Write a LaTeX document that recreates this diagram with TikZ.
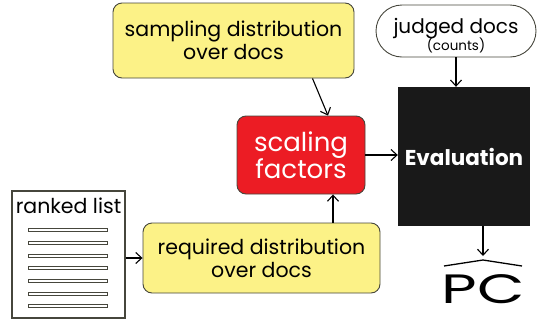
\documentclass[tikz,border=0pt]{standalone}
\usepackage{fontspec}
\setmainfont{Poppins}
\usepackage{tikz}
\usetikzlibrary{shapes.geometric, shapes.misc, arrows, arrows.meta}
\definecolor{boxyellow}{RGB}{252,242,135}
\definecolor{boxred}{RGB}{236,28,36}
\definecolor{boxedge}{RGB}{70,70,60}
\tikzstyle{blocky} = [rectangle, draw=boxedge, line width=0.9pt, rounded corners=9pt, align=center, fill=boxyellow, font=\fontsize{20.5}{23}\selectfont]
\tikzstyle{blockr} = [rectangle, draw=boxedge, line width=0.9pt, rounded corners=9pt, align=center, fill=boxred, text=white, minimum width=128pt, minimum height=78pt, font=\fontsize{26}{27}\selectfont]
\tikzstyle{blocke} = [rectangle, fill=black!90, text=white, minimum width=132pt, minimum height=139pt, font=\fontsize{21.5}{22}\selectfont\bfseries]
\tikzstyle{blockj} = [rounded rectangle, draw=boxedge, line width=0.9pt, align=center, minimum width=162pt, minimum height=52pt, inner sep=1pt, font=\fontsize{20}{19}\selectfont]
\tikzstyle{listbox} = [rectangle, draw=boxedge, line width=1.2pt, minimum width=113pt, minimum height=127pt]
\tikzstyle{bar} = [draw=boxedge, line width=0.8pt, fill=white]
\tikzstyle{hat} = [draw, line width=1.3pt, line join=round]
\tikzstyle{line} = [draw,-{Straight Barb[length=6pt,width=11pt]},line width=1.1pt]

\begin{document}
\begin{tikzpicture}[x=1pt, y=-1pt]
\useasboundingbox (0,0) rectangle (541,322);

\node [blocky, minimum width=241pt, minimum height=75pt] (sampling) at (233.5,40.5) {sampling distribution\\over docs};
\node [blockj] (judged) at (456,31) {\raisebox{-6pt}[\height][\depth]{\begin{tabular}{@{}c@{}}judged docs\\[-2pt]{\fontsize{13.5}{13.5}\selectfont (counts)}\end{tabular}}};
\node [blockr] (scaling) at (301,155) {scaling\\factors};
\node [blocke] (eval) at (464,156.5) {Evaluation};
\node [listbox] (list) at (68.5,254.5) {};
\node [below=4pt, font=\fontsize{20.5}{22}\selectfont] (listtitle) at (list.north) {ranked list};
\node [blocky, minimum width=237pt, minimum height=70pt] (required) at (261.5,258) {required distribution\\over docs};
\node [anchor=base, font=\fontsize{41}{44}\selectfont] (pc) at (483,303) {\scalebox{1.5}[1]{PC}};
\coordinate (pctop) at (483,256);

\foreach \k in {0,...,6}
  \path [bar] (28,{228.5+12.7*\k}) rectangle (107,{231.5+12.7*\k});

% hat over PC
\path [hat] ([xshift=-39pt, yshift=37pt]pc.base) -- ([yshift=43pt]pc.base) -- ([xshift=39pt, yshift=37pt]pc.base);

\path [line] ([xshift=79pt]sampling.south) -- ([xshift=27pt]scaling.north);
\path [line] (scaling.east) -- (scaling.east -| eval.west);
\path [line] (judged.south) -- (judged.south |- eval.north);
\path [line] (list.east |- required) -- (required.west);
\path [line] ([xshift=71.5pt]required.north) -- ([xshift=71.5pt]required.north |- scaling.south);
\path [line] (pctop |- eval.south) -- (pctop);

\end{tikzpicture}
\end{document}
